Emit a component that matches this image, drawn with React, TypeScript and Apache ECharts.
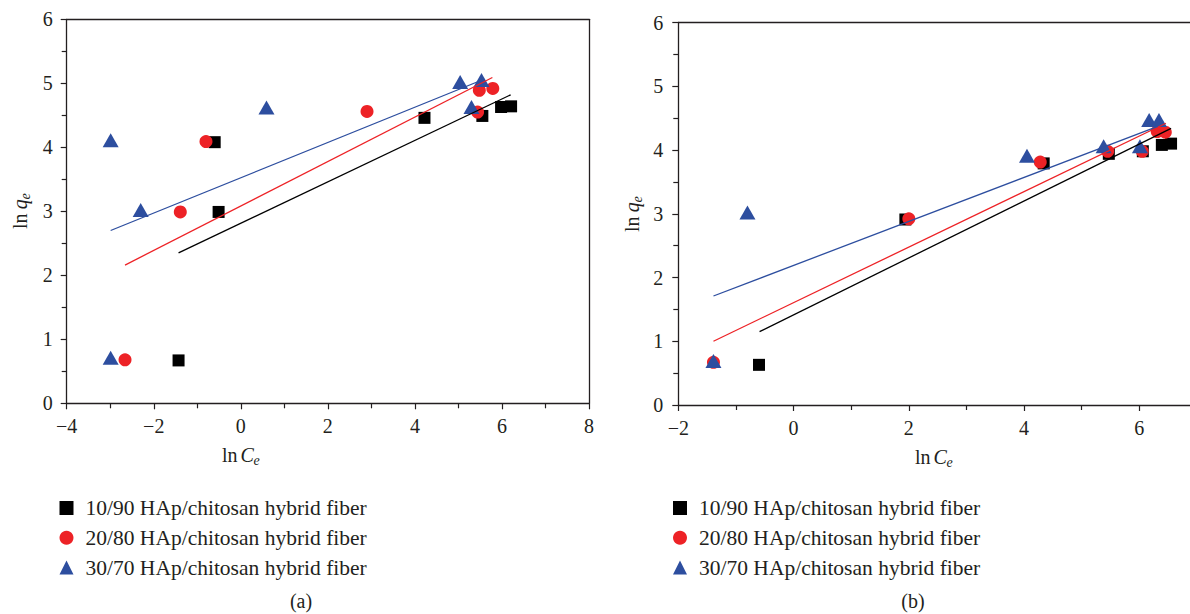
import React, { useEffect, useRef } from 'react';
import * as echarts from 'echarts';

const seriesNames = [
  '10/90 HAp/chitosan hybrid fiber',
  '20/80 HAp/chitosan hybrid fiber',
  '30/70 HAp/chitosan hybrid fiber',
];
const seriesColors = ['#000000', '#ed2226', '#2d4e9f'];
const seriesSymbols = ['rect', 'circle', 'triangle'];
const symbolSizes: any[] = [12, 13, [16, 14]];

// Panel (a): ln Ce vs ln qe
const a_1090 = [[-1.43, 0.67], [-0.60, 4.08], [-0.51, 2.99], [4.22, 4.46], [5.55, 4.49], [5.98, 4.63], [6.21, 4.64]];
const a_2080 = [[-2.66, 0.68], [-1.39, 2.99], [-0.80, 4.09], [2.90, 4.56], [5.44, 4.55], [5.48, 4.89], [5.79, 4.92]];
const a_3070 = [[-2.99, 4.11], [-2.30, 3.02], [-2.99, 0.71], [0.59, 4.62], [5.04, 5.02], [5.53, 5.05], [5.30, 4.63]];
const a_fit1090 = [[-1.43, 2.35], [6.20, 4.82]];
const a_fit2080 = [[-2.66, 2.16], [5.78, 5.09]];
const a_fit3070 = [[-2.99, 2.70], [5.50, 5.04]];

// Panel (b)
const b_1090 = [[-0.60, 0.63], [1.94, 2.91], [4.34, 3.79], [5.47, 3.94], [6.06, 3.98], [6.39, 4.08], [6.55, 4.10]];
const b_2080 = [[-1.39, 0.67], [2.00, 2.92], [4.28, 3.81], [5.45, 3.98], [6.05, 3.98], [6.31, 4.29], [6.45, 4.28]];
const b_3070 = [[-1.39, 0.69], [-0.80, 3.02], [4.05, 3.91], [5.38, 4.06], [6.01, 4.06], [6.17, 4.47], [6.34, 4.47]];
const b_fit1090 = [[-0.59, 1.15], [6.55, 4.34]];
const b_fit2080 = [[-1.39, 1.00], [6.46, 4.42]];
const b_fit3070 = [[-1.39, 1.71], [6.32, 4.37]];

const xTicksA = { min: -4, max: 8, interval: 2 };
const xTicksB = { min: -2, max: 7, interval: 2 };
const yTicks = { min: 0, max: 6, interval: 1 };

const INK = '#231f20';
const FONT = 'Liberation Serif';

function minusFmt(v: number) {
  if (Math.abs(v - Math.round(v)) > 1e-6) return '';
  return '{t|' + String(v).replace('-', '\u2212') + '}';
}
function evenFmt(v: number) {
  if (Math.abs(v - Math.round(v)) > 1e-6 || Math.round(v) % 2 !== 0) return '';
  return '{t|' + String(v).replace('-', '\u2212') + '}';
}

const labelStyle = {
  color: INK,
  fontFamily: FONT,
  fontSize: 20,
  rich: { t: { color: INK, fontFamily: FONT, fontSize: 20, lineHeight: 22 } },
};

const baseAxis = {
  type: 'value',
  axisLine: { show: true, onZero: false, lineStyle: { color: INK, width: 1.3 } },
  axisTick: { show: true, inside: false, length: 6, lineStyle: { color: INK, width: 1.2 } },
  minorTick: { show: true, splitNumber: 2, length: 5, lineStyle: { color: INK, width: 1.2 } },
  splitLine: { show: false },
  minorSplitLine: { show: false },
};

const frameAxis = {
  type: 'value',
  axisLine: { show: true, onZero: false, lineStyle: { color: INK, width: 1.3 } },
  axisTick: { show: false },
  minorTick: { show: false },
  splitLine: { show: false },
  axisLabel: { show: false },
};

function xName(cx: number, cy: number) {
  return {
    type: 'group', x: cx, y: cy, silent: true,
    children: [
      { type: 'text', x: -19, y: 0, style: { text: 'ln', font: `20px ${FONT}`, fill: INK, textAlign: 'left', textVerticalAlign: 'middle' } },
      { type: 'text', x: -0.5, y: 0, style: { text: 'C', font: `italic 20px ${FONT}`, fill: INK, textAlign: 'left', textVerticalAlign: 'middle' } },
      { type: 'text', x: 12.5, y: 5, style: { text: 'e', font: `italic 14px ${FONT}`, fill: INK, textAlign: 'left', textVerticalAlign: 'middle' } },
    ],
  };
}
function yName(cx: number, cy: number) {
  return {
    type: 'group', x: cx, y: cy, rotation: Math.PI / 2, silent: true,
    children: [
      { type: 'text', x: -18, y: 0, style: { text: 'ln', font: `20px ${FONT}`, fill: INK, textAlign: 'left', textVerticalAlign: 'middle' } },
      { type: 'text', x: 1.8, y: 0, style: { text: 'q', font: `italic 20px ${FONT}`, fill: INK, textAlign: 'left', textVerticalAlign: 'middle' } },
      { type: 'text', x: 11.5, y: 5, style: { text: 'e', font: `italic 14px ${FONT}`, fill: INK, textAlign: 'left', textVerticalAlign: 'middle' } },
    ],
  };
}

export default function App() {
  const ref = useRef<HTMLDivElement>(null);
  useEffect(() => {
    if (!ref.current) return;
    const chart = echarts.init(ref.current, undefined, { renderer: 'svg' });

    const panelA = [a_1090, a_2080, a_3070];
    const fitsA = [a_fit1090, a_fit2080, a_fit3070];
    const panelB = [b_1090, b_2080, b_3070];
    const fitsB = [b_fit1090, b_fit2080, b_fit3070];

    const series: any[] = [];
    [panelA, panelB].forEach((panel, p) => {
      panel.forEach((data, i) => {
        series.push({
          type: 'scatter',
          name: seriesNames[i],
          xAxisIndex: p === 0 ? 0 : 2,
          yAxisIndex: p === 0 ? 0 : 2,
          data,
          symbol: seriesSymbols[i],
          symbolSize: symbolSizes[i],
          itemStyle: { color: seriesColors[i], opacity: 1 },
          z: 3 + i,
        });
      });
      const fits = p === 0 ? fitsA : fitsB;
      fits.forEach((data, i) => {
        series.push({
          type: 'line',
          name: 'fit ' + seriesNames[i] + (p === 0 ? ' (a)' : ' (b)'),
          xAxisIndex: p === 0 ? 0 : 2,
          yAxisIndex: p === 0 ? 0 : 2,
          data,
          showSymbol: false,
          symbol: 'none',
          lineStyle: { color: seriesColors[i], width: 1.3 },
          itemStyle: { color: seriesColors[i] },
          z: 8,
        });
      });
    });

    const legendCommon = {
      orient: 'vertical',
      top: 497,
      padding: 0,
      itemWidth: 14,
      itemHeight: 14,
      itemGap: 7.8,
      selectedMode: false,
      data: seriesNames.map((n, i) => ({ name: n, icon: seriesSymbols[i] })),
      textStyle: { fontFamily: FONT, fontSize: 21.5, color: INK, lineHeight: 20, padding: [0, 0, 0, 7] },
    };

    chart.setOption({
      animation: false,
      backgroundColor: '#ffffff',
      grid: [
        { left: 66.7, top: 19.3, width: 522.3, height: 384 },
        { left: 678.3, top: 22.5, width: 521.1, height: 382.5 },
      ],
      xAxis: [
        { ...baseAxis, gridIndex: 0, position: 'bottom', ...xTicksA, axisLabel: { ...labelStyle, margin: 12, formatter: evenFmt } },
        { ...frameAxis, gridIndex: 0, position: 'top', ...xTicksA },
        { ...baseAxis, gridIndex: 1, position: 'bottom', ...xTicksB, axisLabel: { ...labelStyle, margin: 12, formatter: evenFmt } },
        { ...frameAxis, gridIndex: 1, position: 'top', ...xTicksB },
      ],
      yAxis: [
        { ...baseAxis, gridIndex: 0, position: 'left', ...yTicks, axisLabel: { ...labelStyle, margin: 14, formatter: minusFmt } },
        { ...frameAxis, gridIndex: 0, position: 'right', ...yTicks },
        { ...baseAxis, gridIndex: 1, position: 'left', ...yTicks, axisLabel: { ...labelStyle, margin: 15, formatter: minusFmt } },
      ],
      legend: [
        { ...legendCommon, left: 59.5 },
        { ...legendCommon, left: 673 },
      ],
      graphic: [
        xName(241, 455),
        xName(934, 457),
        yName(20, 211),
        yName(632, 214),
        { type: 'text', x: 301, y: 601, style: { text: '(a)', font: `20px ${FONT}`, fill: INK, textAlign: 'center', textVerticalAlign: 'middle' } },
        { type: 'text', x: 913, y: 601, style: { text: '(b)', font: `20px ${FONT}`, fill: INK, textAlign: 'center', textVerticalAlign: 'middle' } },
      ],
      series,
    });
    return () => chart.dispose();
  }, []);

  return (
    <div style={{ position: 'absolute', left: 0, top: 0, width: 1190, height: 614, overflow: 'hidden', background: '#fff' }}>
      <div ref={ref} style={{ width: 1200, height: 614 }} />
    </div>
  );
}
